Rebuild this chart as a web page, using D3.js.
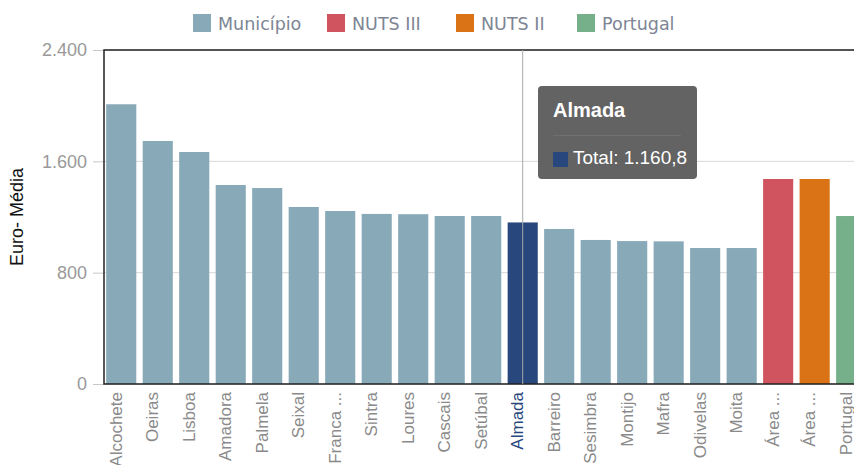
<!DOCTYPE html>
<html>
<head>
<meta charset="utf-8">
<script src="https://cdn.jsdelivr.net/npm/d3@7"></script>
<style>
  body { margin: 0; background: #fff; overflow: hidden; }
  svg { display: block; font-family: "Liberation Sans", Arial, sans-serif; }
</style>
</head>
<body>
<div id="chart"></div>
<script>
var width = 854;
var height = 465;

// data
var municipios = ["Alcochete", "Oeiras", "Lisboa", "Amadora", "Palmela", "Seixal", "V. Franca ...", "Sintra", "Loures", "Cascais", "Setúbal", "Almada", "Barreiro", "Sesimbra", "Montijo", "Mafra", "Odivelas", "Moita", "Área ...", "Área ...", "Portugal"];
var valores = [2010, 1746, 1667, 1430, 1408, 1272, 1243, 1222, 1220, 1207, 1207, 1160.8, 1114, 1035, 1027, 1025, 977, 977, 1473, 1473, 1207];
var grupos = ["Município", "Município", "Município", "Município", "Município", "Município", "Município", "Município", "Município", "Município", "Município", "Município", "Município", "Município", "Município", "Município", "Município", "Município", "NUTS III", "NUTS II", "Portugal"];
var legendItems = ["Município", "NUTS III", "NUTS II", "Portugal"];
var legendColors = ["#87a9b8", "#d0545f", "#d97316", "#76b08a"];
var yTicks = [0, 800, 1600, 2400];
var selected = "Almada";

var data = municipios.map(function(m, i) { return {id: i, name: m, value: valores[i], group: grupos[i]}; });

var margin = {left: 104, top: 50, bottom: 384};
var color = d3.scaleOrdinal().domain(legendItems).range(legendColors);

var x = d3.scaleBand()
  .domain(data.map(d => d.id))
  .range([margin.left, margin.left + 21 * 36.4])
  .paddingInner(0.175)
  .paddingOuter(0.06);
var y = d3.scaleLinear().domain([0, 2400]).range([margin.bottom, margin.top]);

var fmt = function(v, f) {
  return d3.format(f)(v).replace(/,/g, "#").replace(".", ",").replace(/#/g, ".");
};

var svg = d3.select("#chart").append("svg")
  .attr("width", width)
  .attr("height", height);

// grid
svg.append("g")
  .selectAll("line")
  .data(yTicks)
  .enter().append("line")
  .attr("x1", margin.left).attr("x2", width)
  .attr("y1", d => y(d)).attr("y2", d => y(d))
  .attr("stroke", "#d8d8d8");

// y axis
var yAxis = svg.append("g")
  .attr("transform", "translate(" + margin.left + ",0)")
  .call(d3.axisLeft(y).tickValues(yTicks).tickSize(11).tickPadding(6)
    .tickFormat(d => fmt(d, ",")));
yAxis.select(".domain").remove();
yAxis.selectAll("line").attr("stroke", "#c8c8c8");
yAxis.selectAll("text").attr("fill", "#999").style("font-size", "18px");

svg.append("text")
  .attr("transform", "translate(23,217) rotate(-90)")
  .attr("text-anchor", "middle")
  .attr("fill", "#111")
  .style("font-size", "18px")
  .text("Euro- Média");

// bars
svg.append("g")
  .selectAll("rect")
  .data(data)
  .enter().append("rect")
  .attr("x", d => x(d.id))
  .attr("y", d => y(d.value))
  .attr("width", x.bandwidth())
  .attr("height", d => y(0) - y(d.value))
  .attr("fill", d => d.name == selected ? "#27477d" : color(d.group));

// frame
svg.append("path")
  .attr("d", "M" + width + "," + margin.top + "H" + margin.left + "V" + margin.bottom + "H" + width)
  .attr("fill", "none")
  .attr("stroke", "#222")
  .attr("stroke-width", 1.5);

// x labels
svg.append("g")
  .selectAll("text")
  .data(data)
  .enter().append("text")
  .attr("transform", d => "translate(" + (x(d.id) + x.bandwidth() / 2 + 0.5) + ",392) rotate(-90)")
  .attr("text-anchor", "end")
  .attr("fill", d => d.name == selected ? "#27477d" : "#8a8a8a")
  .style("font-size", "17px")
  .text(d => d.name);

// crosshair on the selected bar
var sel = data.find(d => d.name == selected);
var cx = x(sel.id) + x.bandwidth() / 2;
svg.append("line")
  .attr("x1", cx).attr("x2", cx)
  .attr("y1", margin.top).attr("y2", margin.bottom)
  .attr("stroke", "#a8a8a8");

// tooltip
var tip = svg.append("g").attr("transform", "translate(538,86)");
tip.append("rect")
  .attr("width", 159).attr("height", 93)
  .attr("rx", 4)
  .attr("fill", "#5e5e5e")
  .attr("fill-opacity", 0.97);
tip.append("text")
  .attr("x", 15).attr("y", 31)
  .attr("fill", "#fff")
  .style("font-size", "20px")
  .style("font-weight", "bold")
  .text(sel.name);
tip.append("line")
  .attr("x1", 15).attr("x2", 143)
  .attr("y1", 49.5).attr("y2", 49.5)
  .attr("stroke", "#707070");
tip.append("rect")
  .attr("x", 15).attr("y", 66)
  .attr("width", 15).attr("height", 15)
  .attr("fill", "#27477d");
tip.append("text")
  .attr("x", 35).attr("y", 78)
  .attr("fill", "#fff")
  .style("font-size", "19px")
  .text("Total: " + fmt(sel.value, ",.1f"));

// legend
var legendX = [193, 327, 456, 577];
var legend = svg.append("g")
  .selectAll("g")
  .data(legendItems)
  .enter().append("g")
  .attr("transform", (d, i) => "translate(" + legendX[i] + ",14)");
legend.append("rect")
  .attr("width", 18).attr("height", 18)
  .attr("fill", d => color(d));
legend.append("text")
  .attr("x", 25).attr("y", 16)
  .attr("fill", "#7d8594")
  .style("font-family", "DejaVu Sans, Verdana, sans-serif")
  .style("font-size", "17.5px")
  .text(d => d);
</script>
</body>
</html>
